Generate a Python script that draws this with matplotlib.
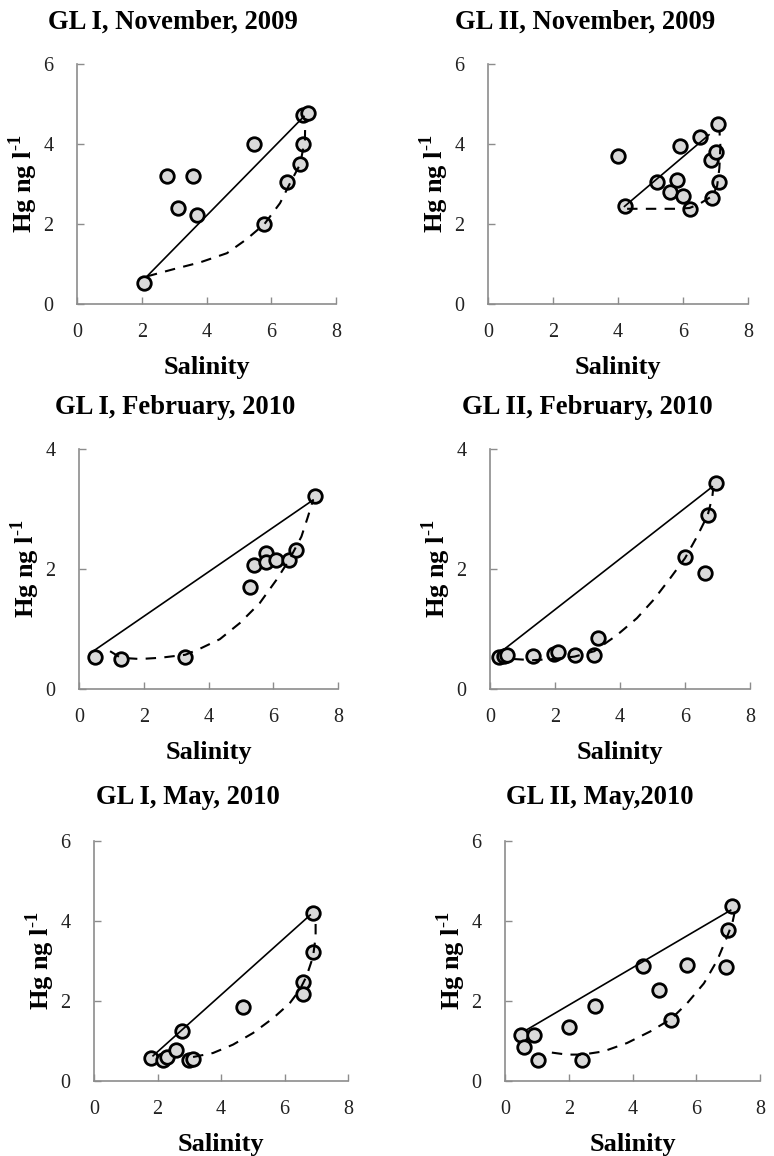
import matplotlib
matplotlib.use("Agg")
import matplotlib.pyplot as plt

plt.rcParams['font.family'] = ['Liberation Serif', 'DejaVu Serif']
plt.rcParams['mathtext.fontset'] = 'custom'
plt.rcParams['mathtext.rm'] = 'Liberation Serif'
plt.rcParams['mathtext.bf'] = 'Liberation Serif:bold'

# ---------------- data ----------------
titles = ["GL I, November, 2009", "GL II, November, 2009",
          "GL I, February, 2010", "GL II, February, 2010",
          "GL I, May, 2010", "GL II, May,2010"]
ymaxes = [6, 6, 4, 4, 6, 6]
yticks_list = [[0, 2, 4, 6], [0, 2, 4, 6], [0, 2, 4], [0, 2, 4], [0, 2, 4, 6], [0, 2, 4, 6]]
xticks = [0, 2, 4, 6, 8]

# Panel 1: GL I, November 2009
sal_1 = [2.08, 2.78, 3.58, 3.11, 3.70, 5.48, 5.79, 6.48, 6.89, 6.97, 6.97, 7.12]
hg_1 = [0.52, 3.19, 3.21, 2.39, 2.23, 4.00, 2.00, 3.05, 3.49, 4.00, 4.73, 4.78]
mix_x_1 = [2.16, 7.01]
mix_y_1 = [0.69, 4.69]
fit_x_1 = [2.16, 2.98, 3.80, 4.63, 5.24, 5.79, 6.27, 6.58, 6.89, 7.04, 7.05]
fit_y_1 = [0.69, 0.87, 1.04, 1.27, 1.62, 2.00, 2.52, 3.02, 3.49, 4.10, 4.60]

# Panel 2: GL II, November 2009
sal_2 = [3.99, 4.20, 5.19, 5.60, 5.82, 5.90, 5.99, 6.20, 6.51, 6.90, 6.87, 7.00, 7.10, 7.08]
hg_2 = [3.69, 2.44, 3.05, 2.79, 3.10, 3.94, 2.70, 2.37, 4.17, 2.65, 3.60, 3.81, 3.04, 4.50]
mix_x_2 = [4.20, 6.80]
mix_y_2 = [2.44, 4.23]
fit_x_2 = [4.28, 5.00, 5.80, 6.20, 6.50, 6.90, 7.05, 7.12, 7.15, 7.12]
fit_y_2 = [2.38, 2.38, 2.38, 2.40, 2.50, 2.70, 2.95, 3.40, 3.95, 4.35]

# Panel 3: GL I, February 2010
sal_3 = [0.48, 1.29, 3.28, 5.28, 5.40, 5.79, 5.79, 6.10, 6.49, 6.69, 7.30]
hg_3 = [0.54, 0.50, 0.54, 1.70, 2.07, 2.26, 2.11, 2.15, 2.15, 2.32, 3.22]
mix_x_3 = [0.49, 7.23]
mix_y_3 = [0.65, 3.15]
fit_x_3 = [0.96, 1.29, 1.88, 2.50, 3.28, 3.73, 4.35, 4.97, 5.58, 6.10, 6.49, 6.87, 7.07, 7.23]
fit_y_3 = [0.63, 0.52, 0.50, 0.52, 0.57, 0.67, 0.83, 1.10, 1.43, 1.82, 2.15, 2.54, 2.87, 3.15]

# Panel 4: GL II, February 2010
sal_4 = [0.29, 0.43, 0.53, 1.31, 1.97, 2.09, 2.60, 3.21, 3.31, 6.00, 6.61, 6.70, 6.94]
hg_4 = [0.53, 0.55, 0.56, 0.55, 0.58, 0.61, 0.56, 0.57, 0.85, 2.20, 1.93, 2.90, 3.43]
mix_x_4 = [0.36, 6.84]
mix_y_4 = [0.63, 3.37]
fit_x_4 = [0.72, 1.31, 1.95, 2.60, 3.21, 3.91, 4.52, 5.04, 5.55, 6.00, 6.37, 6.70, 6.84, 6.87]
fit_y_4 = [0.50, 0.48, 0.50, 0.54, 0.63, 0.90, 1.18, 1.49, 1.85, 2.18, 2.54, 2.90, 3.20, 3.35]

# Panel 5: GL I, May 2010
sal_5 = [1.78, 2.17, 2.30, 2.59, 2.78, 2.99, 3.12, 4.69, 6.58, 6.58, 6.90, 6.90]
hg_5 = [0.58, 0.53, 0.60, 0.78, 1.26, 0.53, 0.55, 1.86, 2.48, 2.18, 3.22, 4.21]
mix_x_5 = [1.86, 6.81]
mix_y_5 = [0.63, 4.15]
fit_x_5 = [3.12, 3.75, 4.38, 5.01, 5.64, 6.16, 6.48, 6.69, 6.90, 6.98, 6.98]
fit_y_5 = [0.60, 0.70, 0.91, 1.20, 1.57, 1.94, 2.28, 2.61, 3.11, 3.61, 3.94]

# Panel 6: GL II, May 2010
sal_6 = [0.50, 0.60, 0.92, 1.02, 2.00, 2.43, 2.81, 4.32, 4.82, 5.21, 5.71, 6.92, 6.99, 7.13]
hg_6 = [1.16, 0.85, 1.14, 0.53, 1.35, 0.52, 1.88, 2.88, 2.28, 1.53, 2.89, 2.86, 3.77, 4.38]
mix_x_6 = [0.68, 7.08]
mix_y_6 = [1.28, 4.27]
fit_x_6 = [1.47, 1.94, 2.43, 3.09, 3.83, 4.56, 5.21, 5.71, 6.24, 6.66, 6.97, 7.13, 7.23]
fit_y_6 = [0.71, 0.66, 0.66, 0.74, 0.95, 1.24, 1.55, 1.94, 2.44, 3.02, 3.61, 3.94, 4.31]

panels = [
    (sal_1, hg_1, mix_x_1, mix_y_1, fit_x_1, fit_y_1),
    (sal_2, hg_2, mix_x_2, mix_y_2, fit_x_2, fit_y_2),
    (sal_3, hg_3, mix_x_3, mix_y_3, fit_x_3, fit_y_3),
    (sal_4, hg_4, mix_x_4, mix_y_4, fit_x_4, fit_y_4),
    (sal_5, hg_5, mix_x_5, mix_y_5, fit_x_5, fit_y_5),
    (sal_6, hg_6, mix_x_6, mix_y_6, fit_x_6, fit_y_6),
]

# ---------------- layout (pixels: left, right, top, bottom) ----------------
W, H = 774, 1156
boxes = [(77, 336, 64, 304), (488, 748, 64, 304),
         (79, 338, 449, 689), (490, 750, 449, 689),
         (94, 348, 841, 1081), (505, 760, 841, 1081)]
title_pos = [(173, 22), (585, 22), (175, 407), (587, 407), (188, 798), (600, 798)]

fig = plt.figure(figsize=(W / 100, H / 100), dpi=100)
gray = '#8c8c8c'

for i, (L, R, T, B) in enumerate(boxes):
    ax = fig.add_axes([L / W, 1 - B / H, (R - L) / W, (B - T) / H])
    sal, hg, mx, my, fx, fy = panels[i]
    ax.scatter(sal, hg, s=95, facecolor='#d9d9d9', edgecolor='black',
               linewidth=2.0, zorder=3, clip_on=False)
    ax.plot(mx, my, color='black', lw=1.2, zorder=4)
    ax.plot(fx, fy, color='black', lw=1.5, ls=(0, (5, 4)), zorder=4)
    ax.set_xlim(0, 8)
    ax.set_ylim(0, ymaxes[i])
    ax.set_xticks(xticks)
    ax.set_yticks(yticks_list[i])
    for s in ['top', 'right']:
        ax.spines[s].set_visible(False)
    for s in ['left', 'bottom']:
        ax.spines[s].set_color(gray)
        ax.spines[s].set_linewidth(1.2)
    ax.tick_params(direction='in', length=5, width=1.0, color=gray,
                   labelsize=14.5, labelcolor='#222222')
    ax.tick_params(axis='x', pad=14)
    ax.tick_params(axis='y', pad=17)
    ax.set_xlabel('Salinity', fontsize=19, fontweight='bold', labelpad=10)
    ax.set_ylabel(r'Hg ng l$^{\text{-}\mathbf{1}}$', fontsize=19, fontweight='bold')
    ax.yaxis.set_label_coords(-37 / (R - L), 0.5)
    tx, ty = title_pos[i]
    fig.text(tx / W, 1 - ty / H, titles[i], fontsize=19.2, fontweight='bold',
             ha='center', va='center')

fig.savefig('out.png', dpi=100)
